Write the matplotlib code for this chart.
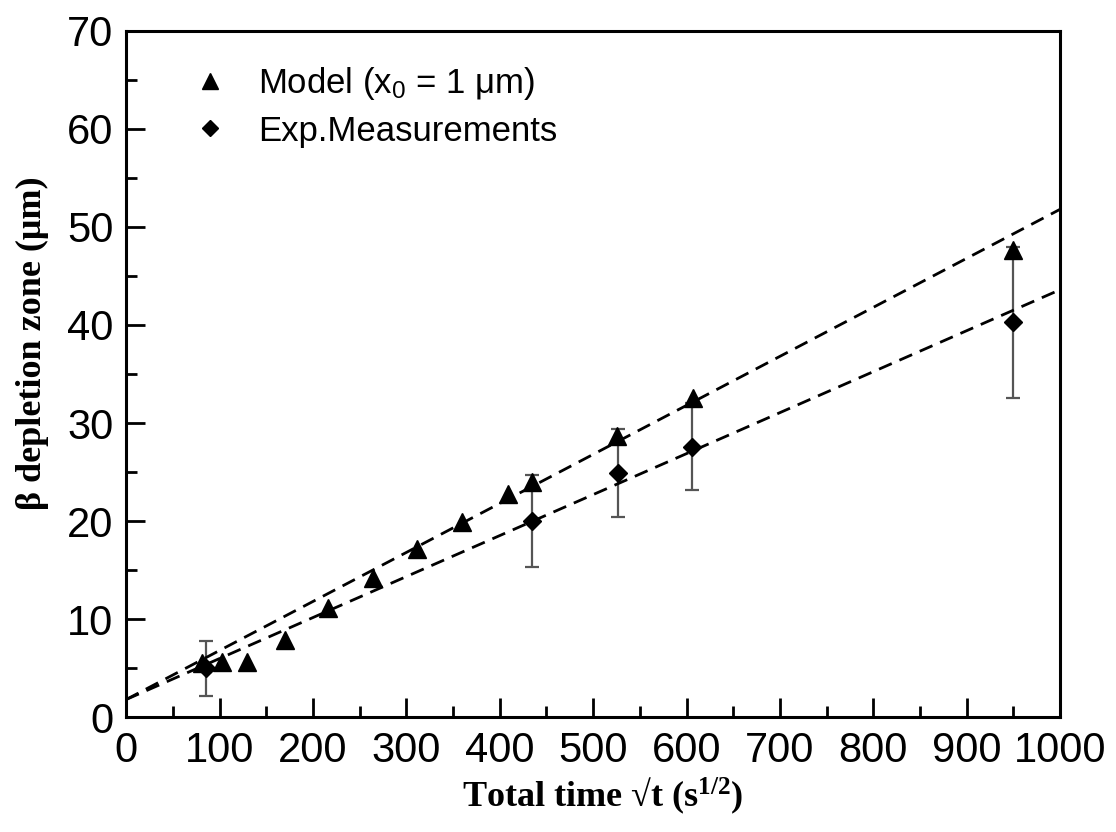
import numpy as np
import matplotlib.pyplot as plt
from matplotlib.ticker import MultipleLocator

plt.rcParams['mathtext.default'] = 'regular'

# --- data ---
model_x = [81, 103, 129, 170, 216, 264, 311, 360, 409, 434, 526, 607, 950]
model_y = [5.5, 5.6, 5.6, 7.9, 11.1, 14.2, 17.2, 19.9, 22.8, 24.0, 28.7, 32.5, 47.6]

exp_x = [85, 434, 527, 606, 950]
exp_y = [5.0, 20.0, 24.9, 27.6, 40.3]
exp_err = [2.8, 4.7, 4.5, 4.4, 7.7]

fit_x = [0, 1000]
model_fit = [1.8, 51.8]
exp_fit = [1.8, 43.6]

# --- plot ---
fig = plt.figure(figsize=(11.16, 8.32), dpi=100)
ax = fig.add_axes([0.113, 0.138, 0.837, 0.825])

ax.plot(fit_x, model_fit, color='black', lw=2, dashes=(5, 3), zorder=2)
ax.plot(fit_x, exp_fit, color='black', lw=2, dashes=(5, 3), zorder=2)

ax.errorbar(exp_x, exp_y, yerr=exp_err, fmt='none', ecolor='#555555',
            elinewidth=1.6, capsize=5, capthick=1.6, zorder=1)
ax.plot(model_x, model_y, '^', color='black', ms=13, ls='none',
        label='Model (x$_{0}$ = 1 \u03bcm)', zorder=3)
ax.plot(exp_x, exp_y, 'D', color='black', ms=9, ls='none',
        label='Exp.Measurements', zorder=3)

ax.set_xlim(0, 1000)
ax.set_ylim(0, 70)
ax.xaxis.set_major_locator(MultipleLocator(100))
ax.xaxis.set_minor_locator(MultipleLocator(50))
ax.yaxis.set_major_locator(MultipleLocator(10))
ax.yaxis.set_minor_locator(MultipleLocator(5))

ax.tick_params(which='both', direction='in', top=False, right=False, width=2,
               labelsize=30)
ax.tick_params(axis='x', pad=10)
ax.tick_params(axis='y', pad=9)
ax.tick_params(which='major', length=14)
ax.tick_params(which='minor', length=8)
for lab in ax.get_xticklabels() + ax.get_yticklabels():
    lab.set_family('Liberation Sans')
for sp in ax.spines.values():
    sp.set_linewidth(2.2)

ax.set_xlabel('Total time \u221at (s$^{1/2}$)',
              family='Liberation Serif', fontweight='bold', fontsize=26, labelpad=4)
ax.set_ylabel('\u03b2 depletion zone (\u03bcm)',
              family='Liberation Serif', fontweight='bold', fontsize=26, labelpad=6)
ax.xaxis.set_label_coords(0.51, -0.085)
ax.yaxis.set_label_coords(-0.083, 0.545)

leg = ax.legend(loc='upper left', bbox_to_anchor=(0.03, 0.995), frameon=False,
                prop={'family': 'Liberation Sans', 'size': 25},
                handlelength=1.4, handletextpad=0.7, markerscale=0.85,
                labelspacing=0.35)

plt.savefig('out.png', dpi=100)
